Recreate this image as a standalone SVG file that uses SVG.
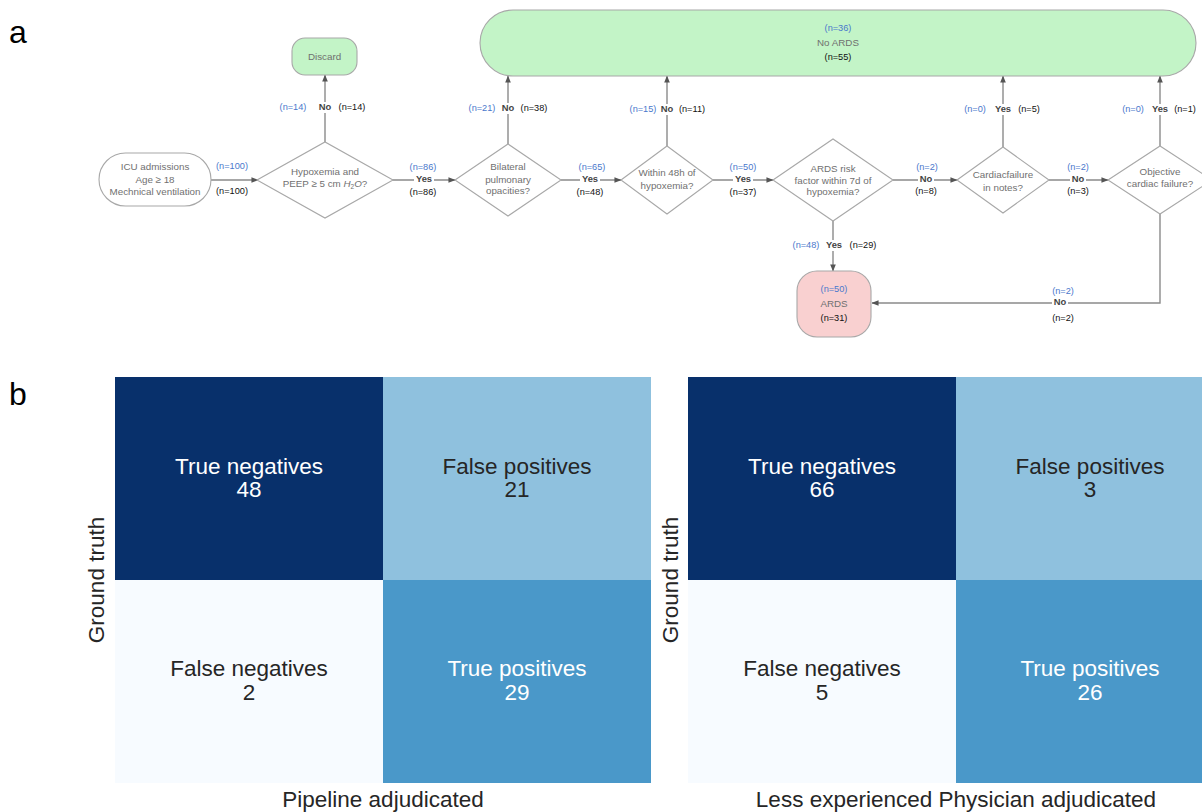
<svg xmlns="http://www.w3.org/2000/svg" width="1202" height="812" viewBox="0 0 1202 812">
<defs>
<marker id="ah" viewBox="0 0 8 8" refX="7.5" refY="4" markerWidth="7" markerHeight="7" markerUnits="userSpaceOnUse" orient="auto">
<path d="M0,0.8 L8,4 L0,7.2 Z" fill="#555"/>
</marker>
<style>
.node{fill:#fff;stroke:#a8a8a8;stroke-width:1.1}
.green{fill:#c3f4c7;stroke:#a8a8a8;stroke-width:1.1}
.pink{fill:#f9d0d0;stroke:#a8a8a8;stroke-width:1.1}
.nt{font-family:"Liberation Sans",Arial,sans-serif;font-size:9.8px;fill:#707070;text-anchor:middle}
.con{fill:none;stroke:#8a8a8a;stroke-width:1.4;marker-end:url(#ah)}
.lb{font-family:"Liberation Sans",Arial,sans-serif;font-size:9.2px;fill:#4a78cc;text-anchor:middle}
.lk{font-family:"Liberation Sans",Arial,sans-serif;font-size:9.2px;fill:#111;text-anchor:middle}
.yn{font-family:"Liberation Sans",Arial,sans-serif;font-size:9.4px;font-weight:bold;fill:#444;text-anchor:middle}
.bg{fill:#fff}
.panel{font-family:"Liberation Sans",Arial,sans-serif;font-size:32px;fill:#000}
.cm{font-family:"Liberation Sans",Arial,sans-serif;font-size:22.5px;text-anchor:middle}
.w{fill:#ffffff}
.d{fill:#262626}
.ax{font-family:"Liberation Sans",Arial,sans-serif;font-size:22.5px;fill:#262626;text-anchor:middle}
</style>
</defs>
<rect width="1202" height="812" fill="#fff"/>

<text class="panel" x="9" y="43">a</text>
<text class="panel" x="9" y="405">b</text>

<!-- connectors -->
<g id="connectors">
<path class="con" d="M211,180 H258"/>
<path class="con" d="M325,142 V75"/>
<path class="con" d="M392,180 H455"/>
<path class="con" d="M508,144 V76"/>
<path class="con" d="M561,180 H621"/>
<path class="con" d="M667,146 V76"/>
<path class="con" d="M713,180 H773"/>
<path class="con" d="M833,221 V271"/>
<path class="con" d="M893,180 H957"/>
<path class="con" d="M1003,147 V76"/>
<path class="con" d="M1049,180 H1108"/>
<path class="con" d="M1160,146 V76"/>
<path class="con" d="M1160,214 V303 H872"/>
</g>

<!-- connector labels -->
<g id="labels">
<text class="lb" x="232" y="169">(n=100)</text>
<text class="lk" x="232" y="194">(n=100)</text>

<rect class="bg" x="317" y="102" width="16" height="11"/>
<text class="lb" x="293" y="110">(n=14)</text>
<text class="yn" x="325" y="110">No</text>
<text class="lk" x="352" y="110">(n=14)</text>

<rect class="bg" x="414" y="176" width="20" height="9"/>
<text class="lb" x="423" y="170">(n=86)</text>
<text class="yn" x="424" y="182">Yes</text>
<text class="lk" x="423" y="195">(n=86)</text>

<rect class="bg" x="500" y="103" width="16" height="11"/>
<text class="lb" x="482" y="111">(n=21)</text>
<text class="yn" x="508" y="111">No</text>
<text class="lk" x="534" y="111">(n=38)</text>

<rect class="bg" x="580" y="176" width="20" height="9"/>
<text class="lb" x="592" y="170">(n=65)</text>
<text class="yn" x="590" y="182">Yes</text>
<text class="lk" x="590" y="195">(n=48)</text>

<rect class="bg" x="659" y="104" width="16" height="11"/>
<text class="lb" x="643" y="112">(n=15)</text>
<text class="yn" x="667" y="112">No</text>
<text class="lk" x="692" y="112">(n=11)</text>

<rect class="bg" x="733" y="176" width="20" height="9"/>
<text class="lb" x="743" y="170">(n=50)</text>
<text class="yn" x="743" y="182">Yes</text>
<text class="lk" x="743" y="195">(n=37)</text>

<rect class="bg" x="824" y="240" width="20" height="11"/>
<text class="lb" x="806" y="248">(n=48)</text>
<text class="yn" x="834" y="248">Yes</text>
<text class="lk" x="863" y="248">(n=29)</text>

<rect class="bg" x="918" y="176" width="16" height="9"/>
<text class="lb" x="927" y="170">(n=2)</text>
<text class="yn" x="926" y="182">No</text>
<text class="lk" x="926" y="194">(n=8)</text>

<rect class="bg" x="993" y="104" width="20" height="11"/>
<text class="lb" x="975" y="112">(n=0)</text>
<text class="yn" x="1003" y="112">Yes</text>
<text class="lk" x="1029" y="112">(n=5)</text>

<rect class="bg" x="1070" y="176" width="16" height="9"/>
<text class="lb" x="1078" y="170">(n=2)</text>
<text class="yn" x="1078" y="182">No</text>
<text class="lk" x="1078" y="194">(n=3)</text>

<rect class="bg" x="1150" y="104" width="20" height="11"/>
<text class="lb" x="1133" y="112">(n=0)</text>
<text class="yn" x="1160" y="112">Yes</text>
<text class="lk" x="1185" y="112">(n=1)</text>

<rect class="bg" x="1052" y="299" width="16" height="9"/>
<text class="lb" x="1063" y="294">(n=2)</text>
<text class="yn" x="1060" y="305">No</text>
<text class="lk" x="1063" y="321">(n=2)</text>
</g>

<!-- nodes -->
<g id="icu">
<rect class="node" x="99" y="153" width="112" height="53" rx="26.5"/>
<text class="nt" x="155" y="169.5">ICU admissions</text>
<text class="nt" x="155" y="182.5">Age ≥ 18</text>
<text class="nt" x="155" y="195">Mechnical ventilation</text>
</g>

<g id="discard">
<rect class="green" x="292" y="38" width="65" height="37" rx="13"/>
<text class="nt" x="324.5" y="59.5">Discard</text>
</g>

<g id="d1">
<polygon class="node" points="257,180 325,142 393,180 325,218"/>
<text class="nt" x="325" y="174.5">Hypoxemia and</text>
<text class="nt" x="325" y="187">PEEP ≥ 5 cm <tspan font-style="italic">H</tspan><tspan font-size="6.5px" dy="2">2</tspan><tspan font-style="italic" dy="-2">O</tspan>?</text>
</g>

<g id="noards">
<rect class="green" x="480" y="10" width="716" height="66" rx="33"/>
<text class="lb" x="838" y="31" font-size="9px">(n=36)</text>
<text class="nt" x="838" y="45.5">No ARDS</text>
<text class="lk" x="838" y="60" font-size="9px">(n=55)</text>
</g>

<g id="d2">
<polygon class="node" points="455,180 508,144 561,180 508,216"/>
<text class="nt" x="508" y="169.5">Bilateral</text>
<text class="nt" x="508" y="182.5">pulmonary</text>
<text class="nt" x="508" y="194">opacities?</text>
</g>

<g id="d3">
<polygon class="node" points="621,180 667,146 713,180 667,214"/>
<text class="nt" x="667" y="175.5">Within 48h of</text>
<text class="nt" x="667" y="188.5">hypoxemia?</text>
</g>

<g id="d4">
<polygon class="node" points="773,180 833,139 893,180 833,221"/>
<text class="nt" x="833" y="171.5">ARDS risk</text>
<text class="nt" x="833" y="183.5">factor within 7d of</text>
<text class="nt" x="833" y="195">hypoxemia?</text>
</g>

<g id="d5">
<polygon class="node" points="957,180 1003,147 1049,180 1003,213"/>
<text class="nt" x="1003" y="177.5">Cardiacfailure</text>
<text class="nt" x="1003" y="190.5">in notes?</text>
</g>

<g id="d6">
<polygon class="node" points="1108,180 1160,146 1212,180 1160,214"/>
<text class="nt" x="1160" y="174.5">Objective</text>
<text class="nt" x="1160" y="186.5">cardiac failure?</text>
</g>

<g id="ards">
<rect class="pink" x="797" y="271" width="74" height="66" rx="20"/>
<text class="lb" x="834" y="292" font-size="9px">(n=50)</text>
<text class="nt" x="834" y="306.5">ARDS</text>
<text class="lk" x="834" y="321" font-size="9px">(n=31)</text>
</g>

<!-- confusion matrix 1 -->
<g id="cm1">
<rect x="115" y="377" width="268" height="203" fill="#08306b"/>
<rect x="383" y="377" width="268" height="203" fill="#8fc1de"/>
<rect x="115" y="580" width="268" height="203" fill="#f7fbff"/>
<rect x="383" y="580" width="268" height="203" fill="#4a98c9"/>
<text class="cm w" x="249" y="474">True negatives</text>
<text class="cm w" x="249" y="497">48</text>
<text class="cm d" x="517" y="474">False positives</text>
<text class="cm d" x="517" y="497">21</text>
<text class="cm d" x="249" y="676">False negatives</text>
<text class="cm d" x="249" y="700">2</text>
<text class="cm w" x="517" y="676">True positives</text>
<text class="cm w" x="517" y="700">29</text>
<text class="ax" x="383" y="807">Pipeline adjudicated</text>
<text class="ax" transform="translate(104,580) rotate(-90)">Ground truth</text>
</g>

<!-- confusion matrix 2 -->
<g id="cm2">
<rect x="688" y="377" width="268" height="203" fill="#08306b"/>
<rect x="956" y="377" width="268" height="203" fill="#8fc1de"/>
<rect x="688" y="580" width="268" height="203" fill="#f7fbff"/>
<rect x="956" y="580" width="268" height="203" fill="#4a98c9"/>
<text class="cm w" x="822" y="474">True negatives</text>
<text class="cm w" x="822" y="497">66</text>
<text class="cm d" x="1090" y="474">False positives</text>
<text class="cm d" x="1090" y="497">3</text>
<text class="cm d" x="822" y="676">False negatives</text>
<text class="cm d" x="822" y="700">5</text>
<text class="cm w" x="1090" y="676">True positives</text>
<text class="cm w" x="1090" y="700">26</text>
<text class="ax" x="956" y="807">Less experienced Physician adjudicated</text>
<text class="ax" transform="translate(678,580) rotate(-90)">Ground truth</text>
</g>
</svg>
